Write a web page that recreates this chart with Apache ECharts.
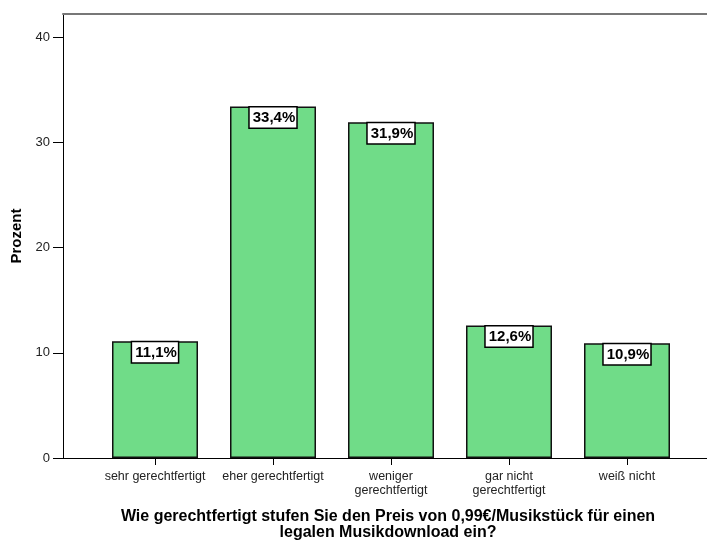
<!DOCTYPE html>
<html>
  <head>
    <meta charset="utf-8" />
    <title>Preis Musikdownload</title>
    <script src="https://cdn.jsdelivr.net/npm/echarts@6/dist/echarts.min.js"></script>
  </head>
  <body style="margin: 0">
    <div id="main" style="width: 707px; height: 541px"></div>

    <script>
      // Antwortkategorien und Prozentwerte
      var categories = [
        "sehr gerechtfertigt",
        "eher gerechtfertigt",
        "weniger\ngerechtfertigt",
        "gar nicht\ngerechtfertigt",
        "weiß nicht",
      ];
      var percents = [11.1, 33.4, 31.9, 12.6, 10.9];
      var yTicks = [0, 10, 20, 30, 40];

      var font = "Liberation Sans, Arial, sans-serif";
      var yMax = 42.2;

      var myChart = echarts.init(document.getElementById("main"));

      var option = {
        animation: false,
        textStyle: { fontFamily: font },
        title: {
          text: "Wie gerechtfertigt stufen Sie den Preis von 0,99€/Musikstück für einen\nlegalen Musikdownload ein?",
          left: 383,
          textAlign: "center",
          top: 504,
          textStyle: {
            fontFamily: font,
            fontSize: 16,
            fontWeight: "bold",
            color: "#000",
            lineHeight: 16,
          },
        },
        grid: [
          // Rahmen mit Achsen
          { left: 63, right: 0, top: 14, bottom: 83 },
          // Balken
          { left: 96, right: 21, top: 14, bottom: 83 },
        ],
        xAxis: [
          {
            type: "value",
            gridIndex: 0,
            position: "bottom",
            axisLine: { show: true, lineStyle: { color: "#000", width: 1 } },
            axisTick: { show: false },
            axisLabel: { show: false },
            splitLine: { show: false },
          },
          {
            type: "value",
            gridIndex: 0,
            position: "top",
            axisLine: { show: true, lineStyle: { color: "#777", width: 2 } },
            axisTick: { show: false },
            axisLabel: { show: false },
            splitLine: { show: false },
          },
          {
            type: "category",
            gridIndex: 1,
            data: categories,
            axisLine: { show: false },
            axisTick: {
              show: true,
              alignWithLabel: true,
              length: 7,
              lineStyle: { color: "#000" },
            },
            axisLabel: {
              fontSize: 12.5,
              color: "#222",
              margin: 12,
              lineHeight: 14,
              interval: 0,
            },
          },
        ],
        yAxis: [
          {
            type: "value",
            gridIndex: 0,
            min: 0,
            max: yMax,
            interval: 10,
            name: "Prozent",
            nameLocation: "middle",
            nameGap: 38,
            nameTextStyle: {
              fontFamily: font,
              fontSize: 15,
              fontWeight: "bold",
              color: "#000",
            },
            axisLine: { show: true, lineStyle: { color: "#000", width: 1 } },
            axisTick: {
              show: true,
              length: 10,
              lineStyle: { color: "#000" },
              customValues: yTicks,
            },
            axisLabel: {
              fontSize: 13,
              color: "#222",
              margin: 13,
              customValues: yTicks,
            },
            splitLine: { show: false },
          },
          {
            type: "value",
            gridIndex: 1,
            min: 0,
            max: yMax,
            show: false,
          },
        ],
        series: [
          {
            type: "bar",
            xAxisIndex: 2,
            yAxisIndex: 1,
            data: percents,
            barWidth: 86,
            itemStyle: {
              color: "#70dc88",
              borderColor: "#111",
              borderWidth: 1.5,
            },
            label: {
              show: true,
              position: "insideTop",
              distance: 1,
              formatter: function (p) {
                return p.value.toFixed(1).replace(".", ",") + "%";
              },
              fontFamily: font,
              fontSize: 15,
              fontWeight: "bold",
              color: "#000",
              backgroundColor: "#fff",
              borderColor: "#000",
              borderWidth: 1.5,
              padding: [3, 1, 2, 3],
            },
          },
        ],
      };

      myChart.setOption(option);
    </script>
  </body>
</html>
